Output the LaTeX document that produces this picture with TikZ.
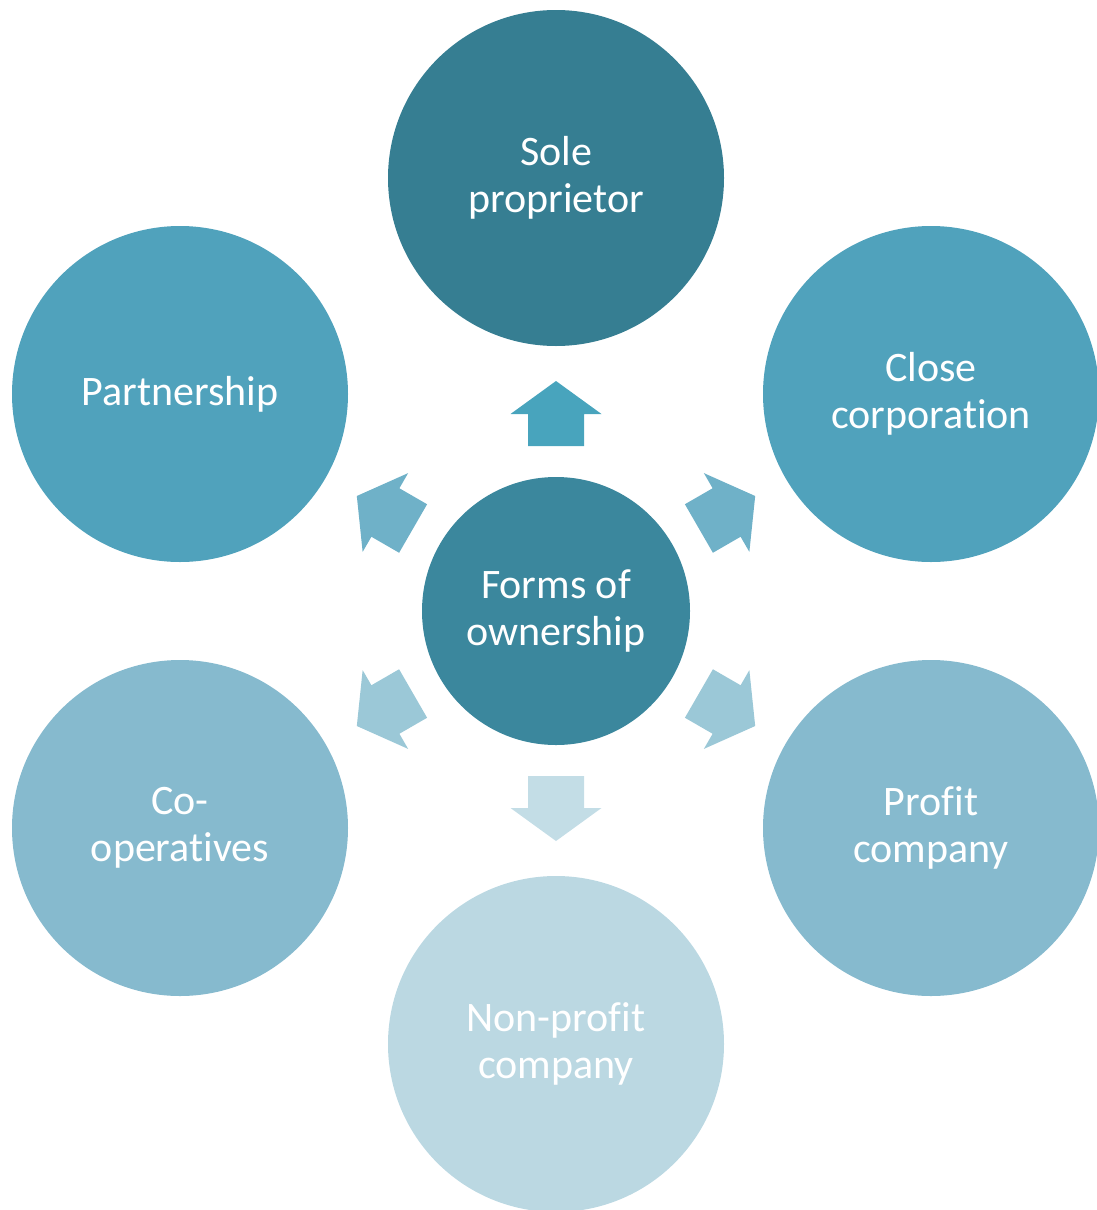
\documentclass[tikz,border=0pt]{standalone}
\usepackage{fontspec}
\setmainfont{Carlito}[Ligatures=NoCommon]
\definecolor{cTop}{RGB}{54,126,146}
\definecolor{cCtr}{RGB}{59,135,157}
\definecolor{cMid}{RGB}{80,162,188}
\definecolor{cLow}{RGB}{134,186,206}
\definecolor{cBot}{RGB}{187,216,226}
\definecolor{aTop}{RGB}{72,164,189}
\definecolor{aMid}{RGB}{111,177,200}
\definecolor{aLow}{RGB}{155,200,215}
\definecolor{aBot}{RGB}{195,221,230}
\tikzset{
  bubble/.style={circle, minimum size=336pt, inner sep=0pt, text=white, align=center,
    font=\fontsize{42}{47}\selectfont, draw=none},
  hub/.style={bubble, minimum size=268pt}
}
\begin{document}
\begin{tikzpicture}[x=1pt,y=-1pt]
\useasboundingbox (0,0) rectangle (1097,1210);
\node[hub, fill=cCtr] (ctr) at (556,611) {Forms of\\ownership};
\node[bubble, fill=cTop] (sole) at (556,178) {Sole\\proprietor};
\node[bubble, fill=cMid] (close) at (931,394) {Close\\corporation};
\node[bubble, fill=cMid] (part) at (180,394) {Partnership};
\node[bubble, fill=cLow] (coop) at (180,828) {Co-\\operatives};
\node[bubble, fill=cLow] (profit) at (931,828) {Profit\\company};
\node[bubble, fill=cBot] (nonp) at (556,1044) {Non-profit\\company};
\foreach \ang/\col in {90/aTop, 30/aMid, 150/aMid, -30/aLow, 210/aLow, -90/aBot}{
  \begin{scope}[shift={(ctr.center)}, rotate=\ang]
    \fill[\col] (165,-28) -- (197,-28) -- (197,-45.5) -- (230,0) -- (197,45.5) -- (197,28) -- (165,28) -- cycle;
  \end{scope}
}
\end{tikzpicture}
\end{document}
